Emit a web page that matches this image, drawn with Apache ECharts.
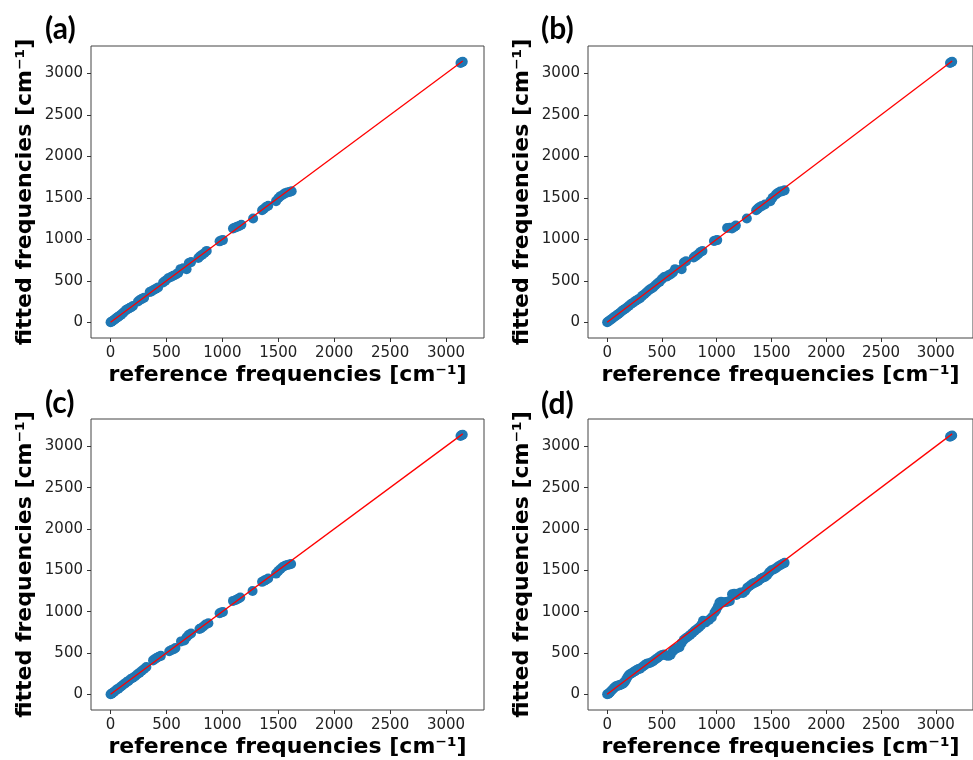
<!DOCTYPE html>
<html>
<head>
<meta charset="utf-8">
<script src="https://cdn.jsdelivr.net/npm/echarts@6/dist/echarts.min.js"></script>
<style>
  html, body { margin: 0; padding: 0; background: #fff; }
  #container { width: 973px; height: 760px; }
</style>
</head>
<body>
<div id="container"></div>
<script>
'use strict';

// panel labels
let panelNames = ['(a)', '(b)', '(c)', '(d)'];
let tickValues = [0, 500, 1000, 1500, 2000, 2500, 3000];

// reference vs fitted frequencies
let refA = [0, 8, 18, 30, 42, 55, 68, 80, 95, 110, 125, 140, 155, 170, 185, 200, 245, 262, 280, 300,
  350, 365, 385, 405, 425, 470, 490, 515, 540, 560, 585, 605, 625, 650, 680, 700, 720,
  785, 800, 820, 840, 860, 975, 990, 1005, 1095, 1110, 1130, 1150, 1170, 1275,
  1355, 1370, 1390, 1410, 1480, 1500, 1520, 1545, 1560, 1580, 1600, 1620, 3130, 3140, 3150];
let fitA = [0, 5, 15, 28, 40, 55, 65, 78, 92, 110, 130, 150, 160, 172, 182, 195, 250, 268, 282, 295,
  365, 372, 390, 405, 420, 480, 500, 530, 545, 560, 575, 595, 640, 650, 640, 715, 725,
  775, 795, 815, 835, 860, 975, 985, 990, 1130, 1140, 1150, 1160, 1175, 1250,
  1350, 1365, 1390, 1405, 1460, 1495, 1520, 1540, 1555, 1565, 1570, 1580, 3125, 3135, 3140];

let refB = [0, 10, 22, 35, 48, 60, 75, 90, 105, 120, 135, 150, 165, 180, 200, 220, 240, 260, 280, 300,
  320, 340, 360, 380, 400, 420, 440, 460, 480, 500, 520, 540, 560, 580, 600, 620, 680, 700, 720,
  790, 810, 830, 850, 870, 975, 990, 1005, 1095, 1120, 1140, 1160, 1175, 1275,
  1360, 1375, 1390, 1410, 1440, 1490, 1510, 1540, 1560, 1580, 1600, 1620, 3130, 3140, 3150];
let fitB = [0, 8, 20, 33, 45, 60, 72, 88, 102, 118, 135, 150, 163, 178, 200, 222, 238, 258, 275, 290,
  318, 338, 362, 385, 405, 420, 445, 470, 490, 520, 545, 550, 565, 580, 600, 640, 640, 720, 735,
  780, 800, 820, 845, 860, 980, 985, 990, 1135, 1140, 1130, 1150, 1165, 1250,
  1350, 1370, 1385, 1400, 1420, 1460, 1500, 1540, 1560, 1575, 1580, 1590, 3125, 3135, 3140];

let refC = [0, 10, 20, 32, 45, 58, 70, 85, 100, 115, 130, 145, 160, 180, 200, 220, 240, 260, 280, 300,
  320, 380, 395, 410, 430, 450, 525, 545, 565, 580, 630, 660, 680, 700, 720,
  795, 810, 830, 850, 875, 975, 990, 1005, 1095, 1120, 1140, 1160, 1270,
  1355, 1375, 1390, 1410, 1480, 1500, 1520, 1540, 1560, 1580, 1600, 1615, 3130, 3140, 3150];
let fitC = [0, 8, 18, 30, 45, 60, 68, 85, 100, 118, 132, 148, 162, 185, 200, 218, 242, 262, 285, 305,
  330, 410, 425, 440, 455, 465, 520, 535, 545, 560, 640, 650, 690, 720, 735,
  790, 800, 820, 845, 860, 980, 990, 995, 1130, 1140, 1155, 1170, 1250,
  1360, 1375, 1385, 1400, 1460, 1490, 1515, 1540, 1555, 1565, 1570, 1575, 3125, 3135, 3140];

let refD = [0, 10, 20, 30, 40, 52, 64, 76, 88, 100, 112, 124, 136, 148, 160, 172, 184, 196, 210, 225,
  240, 255, 270, 285, 300, 320, 340, 360, 380, 400, 420, 440, 460, 480, 500, 520, 540, 560, 580, 600,
  620, 640, 660, 680, 700, 720, 740, 760, 780, 800, 820, 840, 860, 875, 900, 930, 955,
  980, 995, 1010, 1025, 1040, 1060, 1080, 1100, 1120, 1140, 1160, 1180, 1200, 1220, 1240, 1260,
  1280, 1300, 1320, 1340, 1360, 1380, 1400, 1420, 1440, 1460, 1480, 1500, 1520, 1540, 1560,
  1580, 1600, 1620, 3130, 3140, 3150];
let fitD = [0, 5, 15, 30, 45, 60, 80, 95, 100, 105, 110, 115, 125, 130, 150, 175, 205, 230, 245, 255,
  270, 280, 295, 305, 310, 330, 350, 370, 375, 385, 400, 420, 440, 460, 475, 480, 470, 465, 480, 520,
  545, 560, 570, 620, 660, 680, 700, 720, 745, 770, 790, 810, 840, 890, 870, 900, 930,
  990, 1020, 1060, 1110, 1120, 1110, 1115, 1120, 1130, 1210, 1215, 1200, 1220, 1230, 1225, 1250,
  1290, 1310, 1330, 1345, 1355, 1370, 1395, 1410, 1420, 1440, 1475, 1500, 1510, 1525, 1545,
  1560, 1575, 1590, 3115, 3125, 3130];

// y = x guide line
let lineEnds = [0, 3150];

let refs = [refA, refB, refC, refD];
let fits = [fitA, fitB, fitC, fitD];

let grids = [
  { left: 91, top: 46, width: 393, height: 292 },
  { left: 588, top: 46, width: 396, height: 292 },
  { left: 91, top: 419, width: 393, height: 291 },
  { left: 588, top: 419, width: 396, height: 291 }
];
let labelPos = [[45, 14], [541, 14], [45, 388], [541, 389]];

function pairs(xs, ys) {
  return xs.map((x, i) => [x, ys[i]]);
}

function axisOpts(idx, name, gap) {
  return {
    type: 'value',
    gridIndex: idx,
    min: name[0] === 'r' ? -175 : -190,
    max: name[0] === 'r' ? 3340 : 3330,
    name: name,
    nameLocation: 'middle',
    nameGap: gap,
    nameTextStyle: {
      fontFamily: 'DejaVu Sans', fontWeight: 'bold', fontSize: 22, color: '#000'
    },
    axisLine: { show: false, onZero: false },
    axisTick: {
      show: true, length: 4, customValues: tickValues,
      lineStyle: { color: '#333', width: 1 }
    },
    axisLabel: {
      customValues: tickValues, margin: 8,
      formatter: v => String(v),
      fontFamily: 'DejaVu Sans', fontSize: 15, color: '#222'
    },
    splitLine: { show: false }
  };
}

var dom = document.getElementById('container');
var myChart = echarts.init(dom);

let option = {
  animation: false,
  backgroundColor: '#fff',
  title: panelNames.map((t, i) => ({
    text: t,
    left: labelPos[i][0],
    top: labelPos[i][1],
    padding: 0,
    textStyle: { fontFamily: 'Lato', fontWeight: 'bold', fontSize: 30, color: '#000' }
  })),
  grid: grids.map(g => Object.assign({
    show: true, borderColor: '#444', borderWidth: 1, backgroundColor: 'transparent'
  }, g)),
  xAxis: grids.map((g, i) => axisOpts(i, 'reference frequencies [cm\u207B\u00B9]', 26)),
  yAxis: grids.map((g, i) => axisOpts(i, 'fitted frequencies [cm\u207B\u00B9]', 55)),
  series: []
};

for (let i = 0; i < 4; i++) {
  option.series.push({
    type: 'scatter',
    xAxisIndex: i,
    yAxisIndex: i,
    data: pairs(refs[i], fits[i]),
    symbolSize: 10,
    itemStyle: { color: '#1f77b4', opacity: 1 },
    z: 2
  });
  option.series.push({
    type: 'line',
    xAxisIndex: i,
    yAxisIndex: i,
    data: pairs(lineEnds, lineEnds),
    symbol: 'none',
    lineStyle: { color: '#ff0000', width: 1.3 },
    z: 3
  });
}

myChart.setOption(option);
</script>
</body>
</html>
